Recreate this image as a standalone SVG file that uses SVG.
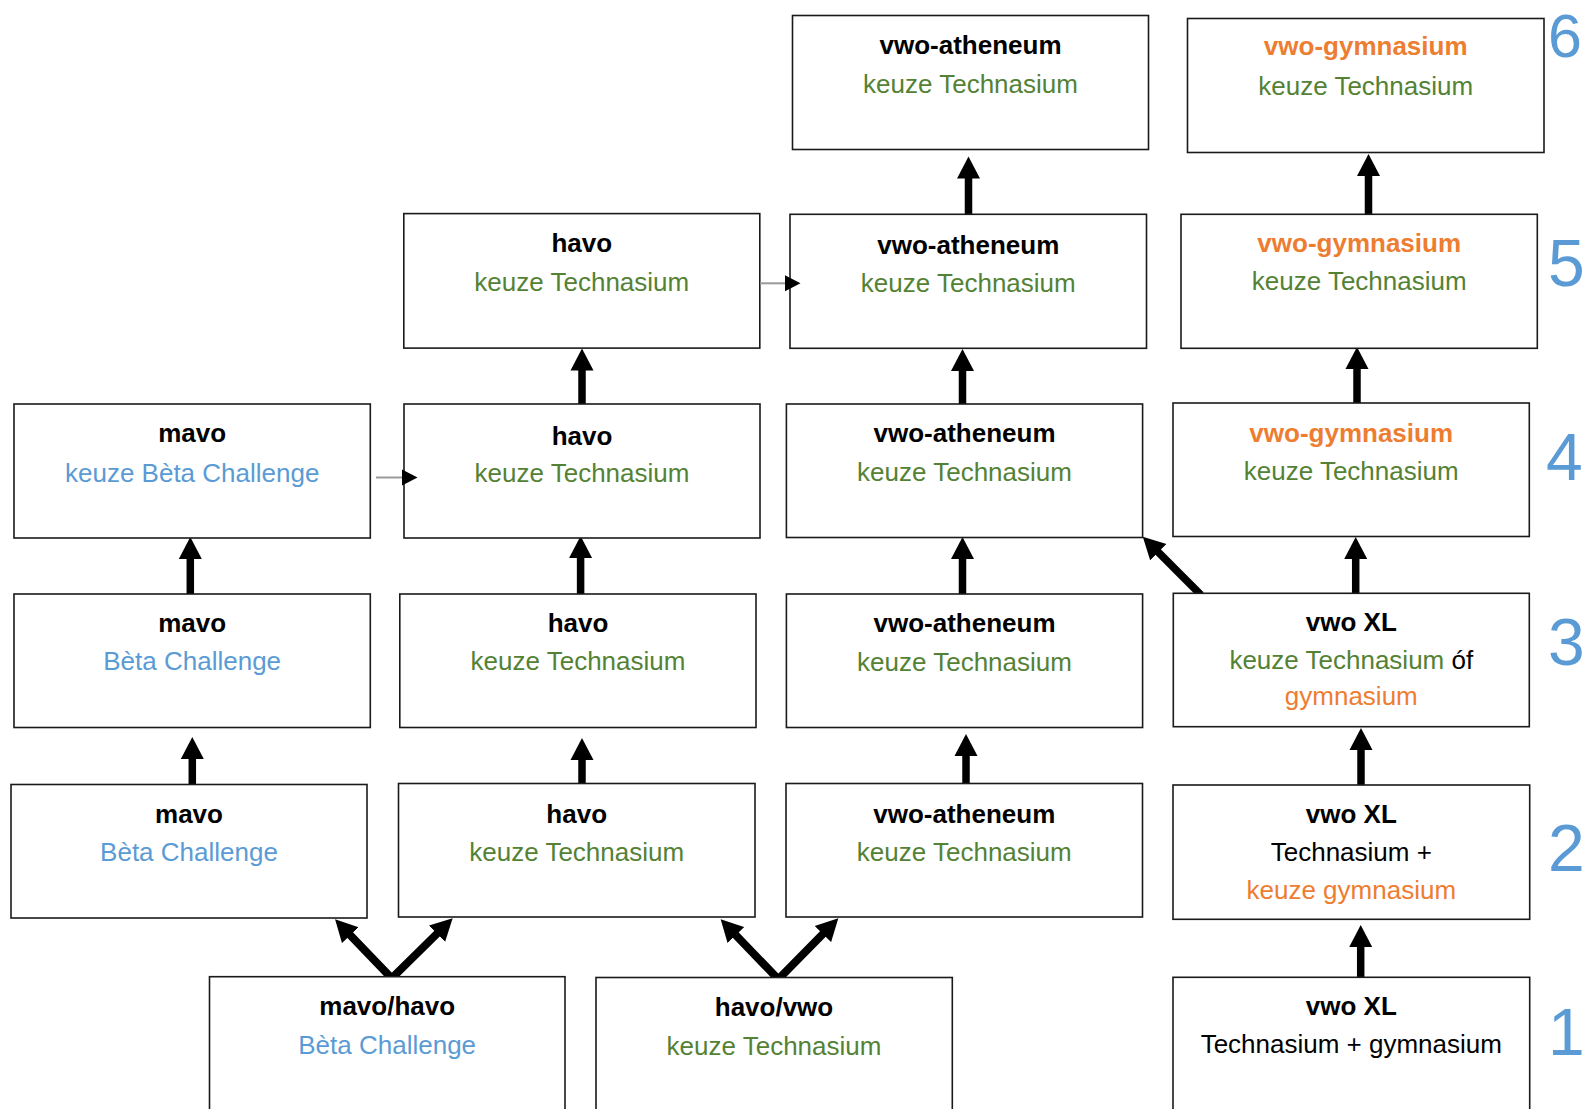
<svg xmlns="http://www.w3.org/2000/svg" width="1587" height="1109" viewBox="0 0 1587 1109">
<style>
  .box { fill: #ffffff; stroke: #1a1a1a; stroke-width: 1.6; }
  text { font-family: "Liberation Sans", Arial, sans-serif; font-size: 26px; text-anchor: middle; }
  .t { font-weight: bold; fill: #000000; }
  .g { fill: #548235; }
  .b { fill: #5B9BD5; }
  .o { fill: #ED7D31; }
  .k { fill: #000000; }
  .ob { fill: #ED7D31; font-weight: bold; }
  .num { font-size: 66px; fill: #5B9BD5; text-anchor: start; }
  .thick { stroke: #000000; stroke-width: 7.5; fill: none; marker-end: url(#head); }
  .vee { stroke: #000000; stroke-width: 8; fill: none; stroke-linejoin: miter; stroke-miterlimit: 10; marker-start: url(#headr); marker-end: url(#headr); }
  .thin { stroke: #9a9a9a; stroke-width: 2; fill: none; marker-end: url(#small); }
</style>
<defs>
  <marker id="head" markerUnits="userSpaceOnUse" markerWidth="24" markerHeight="24" viewBox="0 0 24 24" refX="1" refY="12" orient="auto">
    <path d="M0,0.5 L22,12 L0,23.5 Z" fill="#000000"/>
  </marker>
  <marker id="headr" markerUnits="userSpaceOnUse" markerWidth="24" markerHeight="24" viewBox="0 0 24 24" refX="1" refY="12" orient="auto-start-reverse">
    <path d="M0,0.5 L22,12 L0,23.5 Z" fill="#000000"/>
  </marker>
  <marker id="small" markerUnits="userSpaceOnUse" markerWidth="16" markerHeight="17" viewBox="0 0 16 17" refX="0" refY="8.5" orient="auto">
    <path d="M0,0.5 L15.5,8.5 L0,16.5 Z" fill="#000000"/>
  </marker>
</defs>

<g id="connectors">
  <line class="thick" x1="968.5" y1="214" x2="968.5" y2="177.5"/>
  <line class="thick" x1="1368.5" y1="214" x2="1368.5" y2="175"/>
  <line class="thick" x1="582" y1="404" x2="582" y2="369.5"/>
  <line class="thick" x1="962.5" y1="404" x2="962.5" y2="370"/>
  <line class="thick" x1="1357" y1="403" x2="1357" y2="368"/>
  <line class="thick" x1="190.3" y1="594" x2="190.3" y2="558"/>
  <line class="thick" x1="580.6" y1="594" x2="580.6" y2="557"/>
  <line class="thick" x1="962.5" y1="594" x2="962.5" y2="558"/>
  <line class="thick" x1="1355.7" y1="593" x2="1355.7" y2="558"/>
  <line class="thick" x1="192.3" y1="785" x2="192.3" y2="758"/>
  <line class="thick" x1="582" y1="783.5" x2="582" y2="759"/>
  <line class="thick" x1="966" y1="783.5" x2="966" y2="755"/>
  <line class="thick" x1="1361" y1="785" x2="1361" y2="749"/>
  <line class="thick" x1="1360.7" y1="977.3" x2="1360.7" y2="946"/>
  <line class="thick" x1="1201" y1="595" x2="1157.6" y2="551.5"/>
  <polyline class="vee" points="349.6,934.4 391.7,978.3 437.7,933"/>
  <polyline class="vee" points="735.2,934.4 778.3,979.3 823.6,933.3"/>
</g>

<g id="n-r6-atheneum"><rect class="box" x="792.5" y="15.5" width="356" height="134"/>
  <text class="t" x="970.5" y="53.5">vwo-atheneum</text><text class="g" x="970.5" y="92.5">keuze Technasium</text></g>
<g id="n-r6-gymnasium"><rect class="box" x="1187.5" y="18.5" width="356.5" height="134"/>
  <text class="ob" x="1365.7" y="55">vwo-gymnasium</text><text class="g" x="1365.7" y="94.5">keuze Technasium</text></g>

<g id="n-r5-havo"><rect class="box" x="403.8" y="213.6" width="356" height="134.5"/>
  <text class="t" x="581.8" y="252">havo</text><text class="g" x="581.8" y="290.5">keuze Technasium</text></g>
<g id="n-r5-atheneum"><rect class="box" x="790" y="214.3" width="356.5" height="134"/>
  <text class="t" x="968.3" y="253.5">vwo-atheneum</text><text class="g" x="968.3" y="291.5">keuze Technasium</text></g>
<g id="n-r5-gymnasium"><rect class="box" x="1181" y="214.3" width="356.3" height="134"/>
  <text class="ob" x="1359.2" y="251.5">vwo-gymnasium</text><text class="g" x="1359.2" y="289.5">keuze Technasium</text></g>

<g id="n-r4-mavo"><rect class="box" x="14" y="404" width="356.3" height="134"/>
  <text class="t" x="192.2" y="441.7">mavo</text><text class="b" x="192.2" y="481.5">keuze Bèta Challenge</text></g>
<g id="n-r4-havo"><rect class="box" x="404" y="404" width="356" height="134"/>
  <text class="t" x="582" y="445">havo</text><text class="g" x="582" y="481.5">keuze Technasium</text></g>
<g id="n-r4-atheneum"><rect class="box" x="786.4" y="404" width="356.2" height="133.5"/>
  <text class="t" x="964.5" y="442">vwo-atheneum</text><text class="g" x="964.5" y="481">keuze Technasium</text></g>
<g id="n-r4-gymnasium"><rect class="box" x="1173" y="403" width="356.3" height="133.5"/>
  <text class="ob" x="1351.2" y="441.5">vwo-gymnasium</text><text class="g" x="1351.2" y="479.5">keuze Technasium</text></g>

<g id="n-r3-mavo"><rect class="box" x="14" y="594" width="356.3" height="133.5"/>
  <text class="t" x="192.2" y="631.5">mavo</text><text class="b" x="192.2" y="670">Bèta Challenge</text></g>
<g id="n-r3-havo"><rect class="box" x="399.8" y="594" width="356.2" height="133.5"/>
  <text class="t" x="578" y="631.5">havo</text><text class="g" x="578" y="670">keuze Technasium</text></g>
<g id="n-r3-atheneum"><rect class="box" x="786.4" y="594" width="356.2" height="133.5"/>
  <text class="t" x="964.5" y="631.5">vwo-atheneum</text><text class="g" x="964.5" y="670.5">keuze Technasium</text></g>
<g id="n-r3-vwoxl"><rect class="box" x="1173.3" y="593.3" width="356" height="133.4"/>
  <text class="t" x="1351.3" y="631">vwo XL</text>
  <text x="1351.3" y="669.3"><tspan class="g">keuze Technasium</tspan><tspan class="k"> óf</tspan></text>
  <text class="o" x="1351.3" y="705">gymnasium</text></g>

<g id="n-r2-mavo"><rect class="box" x="11" y="784.5" width="356" height="133.5"/>
  <text class="t" x="189" y="823">mavo</text><text class="b" x="189" y="861">Bèta Challenge</text></g>
<g id="n-r2-havo"><rect class="box" x="398.5" y="783.5" width="356.5" height="133.5"/>
  <text class="t" x="576.7" y="823">havo</text><text class="g" x="576.7" y="861">keuze Technasium</text></g>
<g id="n-r2-atheneum"><rect class="box" x="786" y="783.5" width="356.5" height="133.5"/>
  <text class="t" x="964.3" y="823">vwo-atheneum</text><text class="g" x="964.3" y="861">keuze Technasium</text></g>
<g id="n-r2-vwoxl"><rect class="box" x="1173" y="785" width="356.7" height="134.3"/>
  <text class="t" x="1351.3" y="823.3">vwo XL</text>
  <text class="k" x="1351.3" y="861">Technasium +</text>
  <text class="o" x="1351.3" y="899.3">keuze gymnasium</text></g>

<g id="n-r1-mavohavo"><rect class="box" x="209.5" y="976.7" width="355.5" height="140"/>
  <text class="t" x="387.2" y="1015">mavo/havo</text><text class="b" x="387.2" y="1053.5">Bèta Challenge</text></g>
<g id="n-r1-havovwo"><rect class="box" x="596" y="977.5" width="356.3" height="140"/>
  <text class="t" x="774" y="1015.5">havo/vwo</text><text class="g" x="774" y="1054.5">keuze Technasium</text></g>
<g id="n-r1-vwoxl"><rect class="box" x="1173" y="977.3" width="356.7" height="140"/>
  <text class="t" x="1351.3" y="1015">vwo XL</text><text class="k" x="1351.3" y="1053.3">Technasium + gymnasium</text></g>

<g id="thin-connectors">
  <line class="thin" x1="376" y1="477.5" x2="402" y2="477.5"/>
  <line class="thin" x1="760" y1="283.3" x2="785" y2="283.3"/>
</g>

<g id="year-labels">
  <text class="num" x="1548" y="57" font-size="61" style="font-size:61px">6</text>
  <text class="num" x="1548" y="286">5</text>
  <text class="num" x="1546" y="480">4</text>
  <text class="num" x="1548" y="665">3</text>
  <text class="num" x="1548" y="871">2</text>
  <text class="num" x="1548" y="1055">1</text>
</g>
</svg>
